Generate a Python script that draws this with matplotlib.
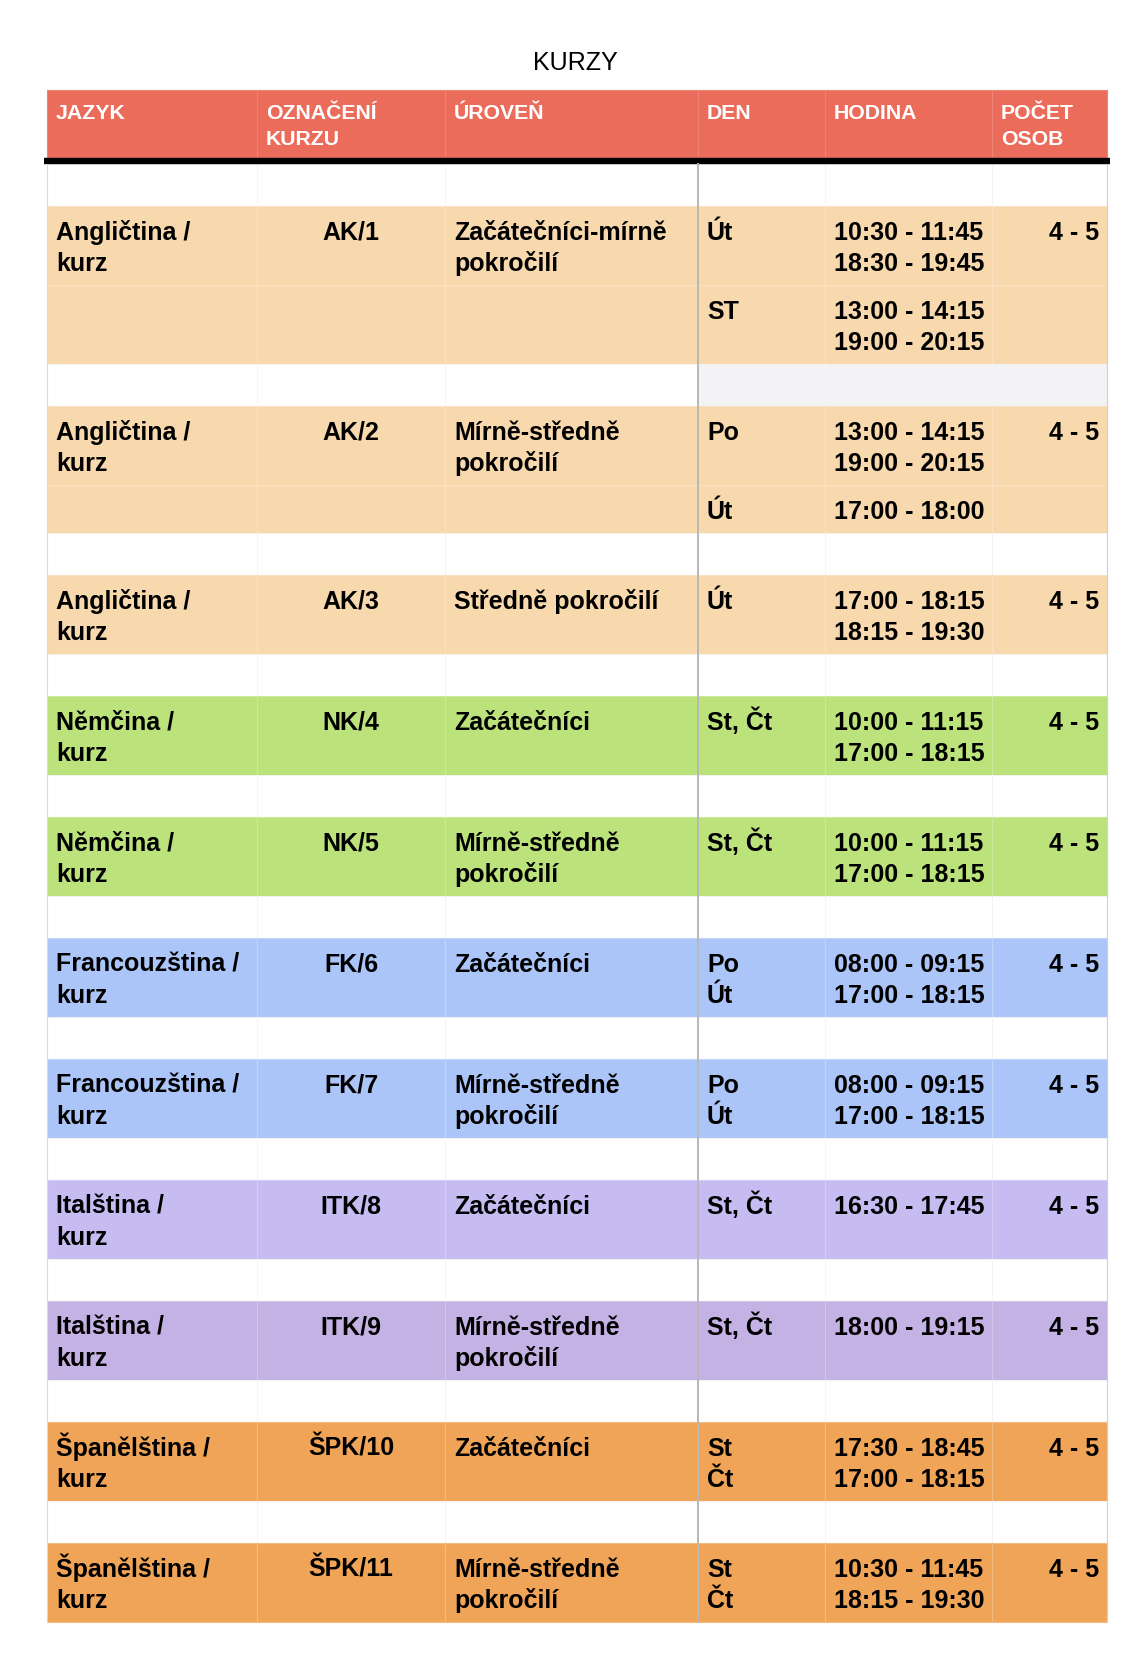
import matplotlib.pyplot as plt
from matplotlib.patches import Rectangle
from matplotlib.colors import to_rgb

# Data
title = "KURZY"
headers = ["JAZYK", "OZNAČENÍ\nKURZU", "ÚROVEŇ", "DEN", "HODINA", "POČET\nOSOB"]
languages = ["Angličtina /\nkurz", "Angličtina /\nkurz", "Angličtina /\nkurz",
             "Němčina /\nkurz", "Němčina /\nkurz",
             "Francouzština /\nkurz", "Francouzština /\nkurz",
             "Italština /\nkurz", "Italština /\nkurz",
             "Španělština /\nkurz", "Španělština /\nkurz"]
codes = ["AK/1", "AK/2", "AK/3", "NK/4", "NK/5", "FK/6", "FK/7",
         "ITK/8", "ITK/9", "ŠPK/10", "ŠPK/11"]
levels = ["Začátečníci-mírně\npokročilí", "Mírně-středně\npokročilí", "Středně pokročilí",
          "Začátečníci", "Mírně-středně\npokročilí",
          "Začátečníci", "Mírně-středně\npokročilí",
          "Začátečníci", "Mírně-středně\npokročilí",
          "Začátečníci", "Mírně-středně\npokročilí"]
# each course can have several sub rows (day, hours)
days = [["Út", "ST"], ["Po", "Út"], ["Út"], ["St, Čt"], ["St, Čt"],
        ["Po\nÚt"], ["Po\nÚt"], ["St, Čt"], ["St, Čt"], ["St\nČt"], ["St\nČt"]]
hours = [["10:30 - 11:45\n18:30 - 19:45", "13:00 - 14:15\n19:00 - 20:15"],
         ["13:00 - 14:15\n19:00 - 20:15", "17:00 - 18:00"],
         ["17:00 - 18:15\n18:15 - 19:30"],
         ["10:00 - 11:15\n17:00 - 18:15"],
         ["10:00 - 11:15\n17:00 - 18:15"],
         ["08:00 - 09:15\n17:00 - 18:15"],
         ["08:00 - 09:15\n17:00 - 18:15"],
         ["16:30 - 17:45"],
         ["18:00 - 19:15"],
         ["17:30 - 18:45\n17:00 - 18:15"],
         ["10:30 - 11:45\n18:15 - 19:30"]]
counts = ["4 - 5"] * 11
colors = ["#F8D8AD", "#F8D8AD", "#F8D8AD", "#BBE27B", "#BBE27B",
          "#ACC5F8", "#ACC5F8", "#C6BCF1", "#C3B2E3", "#F0A457", "#F0A457"]
header_color = "#EB6C5B"

# Layout (pixels)
W, H = 1145, 1673
col_x = [47, 257, 445, 698, 825, 992, 1107]
header_top, header_bot = 90, 158
body_top = 164
blank_h = 41.7
full_h = 79.3
short_h = 47.7
line_sp = 31
pad = 9
body_fs = 18.0
head_fs = 15.3
bold = dict(family=["Liberation Sans", "DejaVu Sans"], fontweight="bold")


def lighten(c, f):
    r, g, b = to_rgb(c)
    return (r + (1 - r) * f, g + (1 - g) * f, b + (1 - b) * f)


def put(x, y, s, ha="left", color="black", fs=body_fs, sp=line_sp):
    for i, line in enumerate(s.split("\n")):
        ax.text(x, y + i * sp, line, ha=ha, va="baseline", color=color,
                fontsize=fs, **bold)


fig = plt.figure(figsize=(W / 100, H / 100), dpi=100)
ax = fig.add_axes([0, 0, 1, 1])
ax.set_xlim(0, W)
ax.set_ylim(H, 0)
ax.axis("off")

ax.text(W / 2 + 3, 70, title, ha="center", va="baseline", fontsize=18.1,
        family=["Liberation Sans", "DejaVu Sans"])

# header
for j in range(6):
    ax.add_patch(Rectangle((col_x[j], header_top), col_x[j + 1] - col_x[j],
                           header_bot - header_top, facecolor=header_color,
                           edgecolor=lighten(header_color, 0.15), lw=0.8))
    put(col_x[j] + pad, header_top + 29, headers[j], color="white",
        fs=head_fs, sp=26)
ax.plot([44, 1110], [161, 161], color="black", lw=4.6, solid_capstyle="butt")

y = body_top
for i in range(len(codes)):
    y += blank_h
    # blank row cells
    gap_top = y - blank_h
    for j in range(6):
        fc = "white"
        if i == 1 and j >= 3:
            fc = "#F3F3F5"
        ax.add_patch(Rectangle((col_x[j], gap_top), col_x[j + 1] - col_x[j], blank_h,
                               facecolor=fc, edgecolor="#F4F4F4", lw=0.6))
    sub_h = [full_h if ("\n" in h or k == 0) else short_h
             for k, h in enumerate(hours[i])]
    total = sum(sub_h)
    c = colors[i]
    edge = lighten(c, 0.25)
    for j in range(6):
        yy = y
        for k, hgt in enumerate(sub_h):
            ax.add_patch(Rectangle((col_x[j], yy), col_x[j + 1] - col_x[j], hgt,
                                   facecolor=c, edgecolor=edge, lw=0.8))
            yy += hgt
    base = y + 34
    put(col_x[0] + pad, base, languages[i])
    put((col_x[1] + col_x[2]) / 2, base, codes[i], ha="center")
    put(col_x[2] + pad, base, levels[i])
    put(col_x[6] - 8, base, counts[i], ha="right")
    yy = y
    for k, hgt in enumerate(sub_h):
        put(col_x[3] + pad, yy + 34, days[i][k])
        put(col_x[4] + pad, yy + 34, hours[i][k])
        yy += hgt
    y += total

# table borders
ax.plot([col_x[3], col_x[3]], [body_top, y], color="#B8B8B8", lw=1.4)
ax.plot([col_x[0], col_x[0]], [body_top, y], color="#DADADA", lw=0.8)
ax.plot([col_x[6], col_x[6]], [body_top, y], color="#D0D0D0", lw=0.8)

fig.savefig("out.png", dpi=100)
